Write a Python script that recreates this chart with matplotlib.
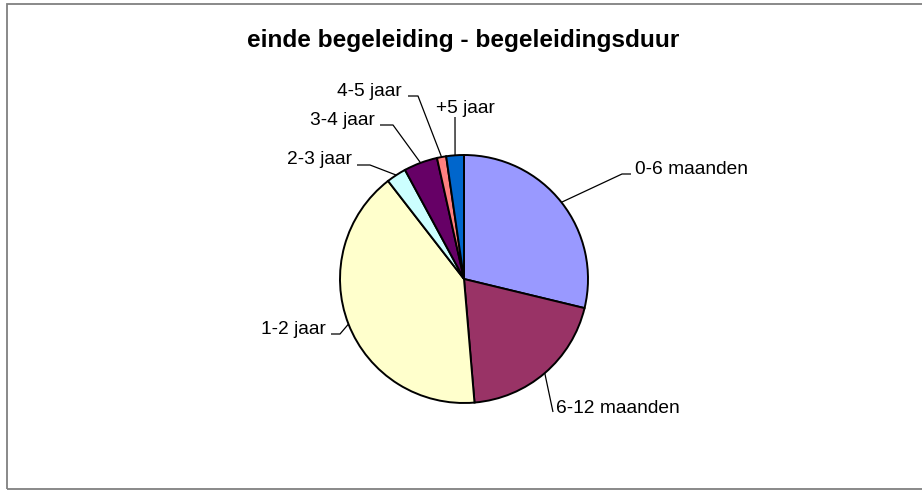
import matplotlib
matplotlib.use("Agg")
import matplotlib.pyplot as plt
from matplotlib.patches import Rectangle
import numpy as np

# ---- data ----
categories = ["0-6 maanden", "6-12 maanden", "1-2 jaar", "2-3 jaar", "3-4 jaar", "4-5 jaar", "+5 jaar"]
values = [28.8, 19.9, 40.9, 2.6, 4.4, 1.2, 2.3]
colors = ["#9999FF", "#993366", "#FFFFCC", "#CCFFFF", "#660066", "#FF8080", "#0066CC"]
title = "einde begeleiding - begeleidingsduur"

# ---- layout (pixel coordinates, y downward) ----
W, H = 922, 493
CX, CY, R = 464, 279, 124
# label text anchor (x, baseline y, ha) and leader elbow points (from text side toward pie)
label_layout = {
    "0-6 maanden":  ((635, 174, "left"),  [(631, 174), (622, 174)]),
    "6-12 maanden": ((556, 413, "left"),  [(553, 412)]),
    "1-2 jaar":     ((326, 334, "right"), [(331, 334), (340, 334)]),
    "2-3 jaar":     ((352, 164, "right"), [(357, 165), (370, 165)]),
    "3-4 jaar":     ((375, 125, "right"), [(380, 125), (393, 125)]),
    "4-5 jaar":     ((402, 96, "right"),  [(408, 96), (418, 96)]),
    "+5 jaar":      ((436, 113, "left"),  [(455, 117)]),
}

plt.rcParams["font.family"] = ["Liberation Sans", "DejaVu Sans"]

fig = plt.figure(figsize=(W / 100, H / 100), dpi=100)
ax = fig.add_axes([0, 0, 1, 1])

def Y(y):
    return H - y

wedges, _ = ax.pie(values, colors=colors, startangle=90, counterclock=False,
                   center=(CX, Y(CY)), radius=R, frame=True,
                   wedgeprops=dict(edgecolor="black", linewidth=1.4))
ax.set_xlim(0, W)
ax.set_ylim(0, H)
ax.set_aspect("auto")
ax.axis("off")

# border
ax.add_patch(Rectangle((7, Y(489)), W, 485, fill=False, edgecolor="#808080",
                       linewidth=1.3, clip_on=False))

# labels with leader lines
for w, cat in zip(wedges, categories):
    mid = np.deg2rad((w.theta1 + w.theta2) / 2)
    px = w.center[0] + w.r * np.cos(mid)
    py = w.center[1] + w.r * np.sin(mid)
    (tx, ty, ha), elbows = label_layout[cat]
    xs = [e[0] for e in elbows] + [px]
    ys = [Y(e[1]) for e in elbows] + [py]
    ax.plot(xs, ys, color="black", linewidth=0.9, solid_capstyle="butt")
    ax.text(tx, Y(ty), cat, ha=ha, va="baseline", fontsize=13.8, color="black")

ax.text(463, Y(47), title, ha="center", va="baseline", fontsize=17.6,
        fontweight="bold", color="black")

fig.savefig("out.png", dpi=100, facecolor="white")
